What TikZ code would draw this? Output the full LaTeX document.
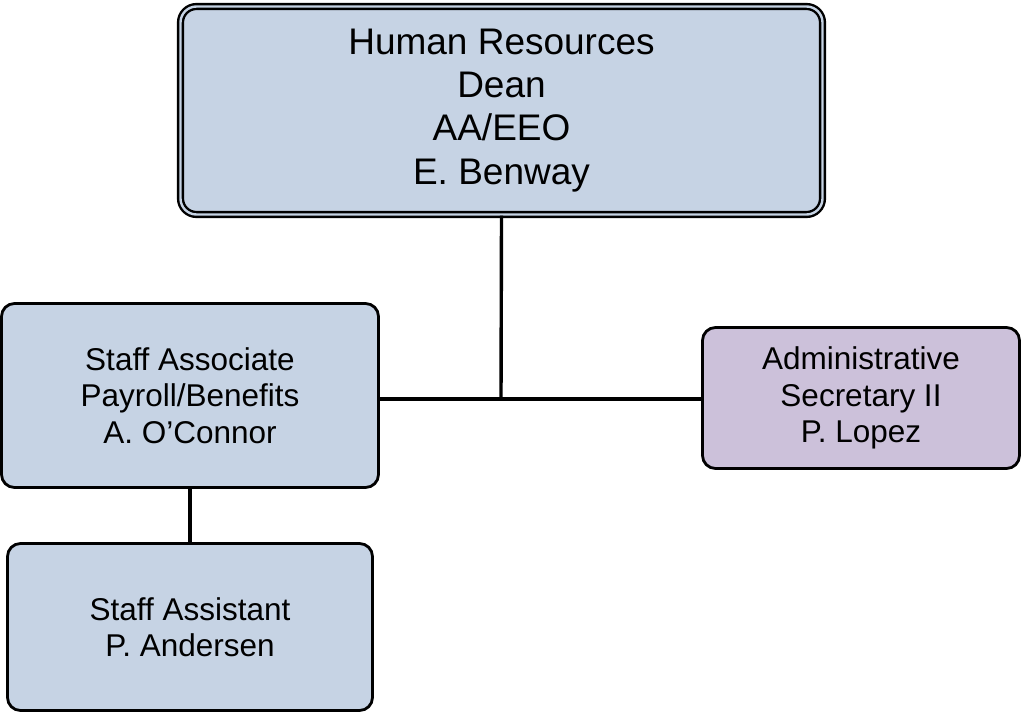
\documentclass[tikz,border=0pt]{standalone}
\usepackage{fontspec}
\setmainfont{Liberation Sans}
\definecolor{boxblue}{HTML}{C6D3E4}
\definecolor{boxpurple}{HTML}{CCC1DA}
\begin{document}
\begin{tikzpicture}[x=1pt,y=-1pt,
  orgbox/.style={draw=black, line width=2.8pt, rounded corners=13pt, align=center,
    inner sep=0pt, font=\fontsize{31.5}{36.5}\selectfont},
  topbox/.style={draw=black, line width=2.4pt, double=boxblue, double distance=2.4pt,
    fill=boxblue, rounded corners=16pt, align=center, inner sep=0pt,
    font=\fontsize{37}{43.2}\selectfont},
  link/.style={line width=3.4pt}]
\useasboundingbox (0,0) rectangle (1023,715);
\node[topbox, minimum width=642, minimum height=208] (top) at (501.5,110.5)
  {Human Resources\\Dean\\AA/EEO\\E. Benway};
\node[orgbox, fill=boxblue, minimum width=377, minimum height=184] (assoc) at (190,395.5)
  {Staff Associate\\Payroll/Benefits\\A. O’Connor};
\node[orgbox, fill=boxpurple, minimum width=317, minimum height=141] (admin) at (861,398)
  {Administrative\\Secretary II\\P. Lopez};
\node[orgbox, fill=boxblue, minimum width=365, minimum height=167] (asst) at (190,627)
  {Staff Assistant\\P. Andersen};
\coordinate (hub) at (501,399);
\draw[link] (top.south) -- (hub);
\draw[link] (hub -| assoc.east) -- (hub -| admin.west);
\draw[link] (assoc.south) -- (asst.north);
\end{tikzpicture}
\end{document}
